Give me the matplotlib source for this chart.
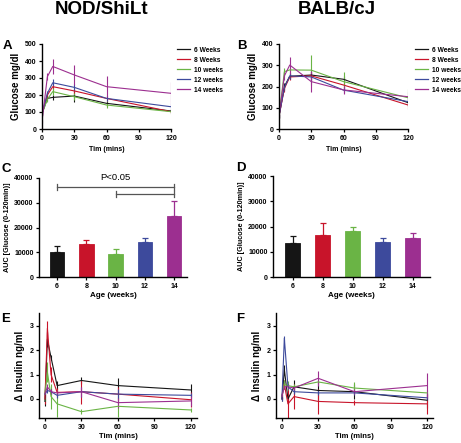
import matplotlib
matplotlib.use("Agg")
import matplotlib.pyplot as plt
from matplotlib.lines import Line2D
import numpy as np

plt.rcParams['font.family'] = ['Liberation Sans', 'DejaVu Sans']
plt.rcParams['font.weight'] = 'bold'

W, H = 461, 443

# ---------------- data ----------------
groups = ["6 Weeks", "8 Weeks", "10 weeks", "12 weeks", "14 weeks"]
colors = ["#151515", "#c8142a", "#6ab445", "#3d4a9c", "#9c2f90"]

gtt_time = [0, 5, 10, 30, 60, 120]
nod_glu = [
    [90, 180, 186, 194, 151, 106],
    [90, 200, 249, 224, 180, 102],
    [90, 175, 220, 190, 141, 102],
    [90, 210, 272, 245, 180, 131],
    [45, 308, 368, 318, 249, 210],
]
nod_glu_err = [
    [10, 15, 15, 35, 15, 10],
    [10, 15, 20, 20, 15, 10],
    [10, 15, 20, 20, 20, 15],
    [10, 15, 20, 20, 15, 15],
    [10, 20, 45, 60, 60, 68],
]
balb_glu = [
    [60, 200, 248, 254, 234, 124],
    [60, 190, 245, 250, 207, 113],
    [60, 270, 278, 277, 223, 147],
    [60, 195, 250, 245, 183, 129],
    [60, 250, 301, 223, 184, 152],
]
balb_glu_err = [
    [10, 15, 15, 20, 15, 15],
    [10, 15, 15, 20, 15, 20],
    [10, 15, 15, 70, 45, 40],
    [10, 15, 15, 20, 15, 15],
    [10, 20, 40, 50, 20, 20],
]

ages = ["6", "8", "10", "12", "14"]
nod_auc = [10200, 13300, 9100, 14000, 24700]
nod_auc_err = [2300, 1600, 2400, 1900, 6200]
balb_auc = [13500, 16700, 18300, 13800, 15600]
balb_auc_err = [2900, 4500, 1700, 1800, 1700]

ins_time = [0, 2, 5, 10, 30, 60, 120]
nod_ins = [
    [-0.1, 2.45, 1.7, 0.55, 0.76, 0.55, 0.37],
    [0.0, 2.9, 1.0, 0.27, 0.3, 0.2, -0.03],
    [0.2, 1.1, 0.1, -0.2, -0.52, -0.3, -0.45],
    [0.2, 0.35, 0.3, 0.15, 0.3, 0.2, 0.15],
    [0.2, 0.5, 0.3, 0.25, 0.3, -0.15, -0.08],
]
nod_ins_err = [
    [0.2, 0.3, 0.1, 0.2, 0.15, 0.3, 0.25],
    [0.2, 0.3, 0.3, 0.2, 0.5, 0.3, 0.3],
    [0.3, 0.4, 0.5, 0.55, 0.1, 0.45, 0.1],
    [0.1, 0.1, 0.1, 0.1, 0.2, 0.2, 0.1],
    [0.1, 0.1, 0.1, 0.1, 0.2, 0.2, 0.2],
]
balb_ins = [
    [0.0, 1.2, 0.0, 0.5, 0.35, 0.3, -0.05],
    [0.1, 0.6, -0.2, 0.1, -0.1, -0.15, -0.2],
    [0.1, 0.6, 0.55, 0.5, 0.7, 0.45, 0.25],
    [0.0, 2.5, 0.5, 0.3, 0.25, 0.25, 0.05],
    [0.1, 0.5, 0.5, 0.45, 0.85, 0.3, 0.55],
]
balb_ins_err = [
    [0.1, 0.2, 0.2, 0.3, 0.4, 0.3, 0.3],
    [0.1, 0.2, 0.6, 0.5, 0.5, 0.1, 0.4],
    [0.1, 0.2, 0.2, 0.1, 0.1, 0.25, 0.1],
    [0.1, 0.1, 0.1, 0.1, 0.1, 0.1, 0.1],
    [0.1, 0.1, 0.1, 0.1, 0.3, 0.1, 0.5],
]

# ---------------- helpers ----------------
fig = plt.figure(figsize=(W / 100, H / 100), dpi=100)


def add_axes(x0, x1, ytop, ybot):
    return fig.add_axes([x0 / W, 1 - ybot / H, (x1 - x0) / W, (ybot - ytop) / H])


def style(ax):
    for s in ("top", "right"):
        ax.spines[s].set_visible(False)
    for s in ("left", "bottom"):
        ax.spines[s].set_linewidth(1.0)
    ax.tick_params(length=2.5, width=0.9, pad=1.5, labelsize=5)
    for lab in ax.get_xticklabels() + ax.get_yticklabels():
        lab.set_fontweight("bold")


def lines(ax, t, data, err):
    for d, e, c in zip(data, err, colors):
        ax.errorbar(t, d, yerr=e, color=c, lw=0.8, elinewidth=0.8, capsize=0)


def legend(ax, x_anchor):
    handles = [Line2D([], [], color=c, lw=0.9) for c in colors]
    leg = ax.legend(handles, groups, loc="upper left", bbox_to_anchor=(x_anchor, 0.97),
                    frameon=False, fontsize=4.8, handlelength=2.0, handletextpad=0.5,
                    labelspacing=0.45, borderaxespad=0, borderpad=0)
    for t in leg.get_texts():
        t.set_fontweight("bold")


# ---------------- A ----------------
axA = add_axes(42, 171, 44, 129)
lines(axA, gtt_time, nod_glu, nod_glu_err)
axA.set_xlim(0, 120)
axA.set_ylim(0, 500)
axA.set_xticks([0, 30, 60, 90, 120])
axA.set_yticks([0, 100, 200, 300, 400, 500])
style(axA)
axA.set_ylabel("Glucose mg/dl", fontsize=7, fontweight="bold", labelpad=3)
axA.set_xlabel("Tim (mins)", fontsize=5, fontweight="bold", labelpad=3)
legend(axA, (177 - 42) / 129)

# ---------------- B ----------------
axB = add_axes(279, 408, 44, 129)
lines(axB, gtt_time, balb_glu, balb_glu_err)
axB.set_xlim(0, 120)
axB.set_ylim(0, 400)
axB.set_xticks([0, 30, 60, 90, 120])
axB.set_yticks([0, 100, 200, 300, 400])
style(axB)
axB.set_ylabel("Glucose mg/dl", fontsize=7, fontweight="bold", labelpad=3)
axB.set_xlabel("Tim (mins)", fontsize=5, fontweight="bold", labelpad=3)
legend(axB, (415 - 279) / 129)


# ---------------- C / D ----------------
def bars(ax, vals, errs):
    x = np.arange(len(ages))
    ax.bar(x, vals, width=0.5, color=colors, edgecolor=colors, linewidth=0.6)
    for xi, v, e, c in zip(x, vals, errs, colors):
        ax.errorbar([xi], [v], yerr=[[0], [e]], color=c, elinewidth=0.9, capsize=2.5,
                    capthick=0.9, fmt="none")
    ax.set_xticks(x)
    ax.set_xticklabels(ages)
    ax.set_ylim(0, 40000)
    ax.set_yticks([0, 10000, 20000, 30000, 40000])
    style(ax)
    ax.set_ylabel("AUC [Glucose (0-120min)]", fontsize=5.2, fontweight="bold", labelpad=2)
    ax.set_xlabel("Age (weeks)", fontsize=5.8, fontweight="bold", labelpad=2)


axC = add_axes(39, 187, 178, 277)
bars(axC, nod_auc, nod_auc_err)
axC.set_xlim(-0.615, 4.44)
br_col = "#555555"
axC.plot([0, 4], [36400, 36400], color=br_col, lw=0.9)
axC.plot([0, 0], [35300, 37500], color=br_col, lw=0.9)
axC.plot([4, 4], [35300, 37500], color=br_col, lw=0.9)
axC.plot([2, 4], [33500, 33500], color=br_col, lw=0.9)
axC.plot([2, 2], [32400, 34600], color=br_col, lw=0.9)
axC.plot([4, 4], [32400, 34600], color=br_col, lw=0.9)
axC.text(2.0, 38200, "P<0.05", ha="center", va="bottom", fontsize=6.8, fontweight="normal")

axD = add_axes(273, 430, 176, 277)
bars(axD, balb_auc, balb_auc_err)
axD.set_xlim(-0.65, 4.57)


# ---------------- E / F ----------------
def ins(ax, data, err):
    lines(ax, ins_time, data, err)
    ax.set_xlim(-4.9, 125)
    ax.set_ylim(-0.78, 3.53)
    ax.set_xticks([0, 30, 60, 90, 120])
    ax.set_yticks([0, 1, 2, 3])
    style(ax)
    ax.set_ylabel("\u0394 Insulin ng/ml", fontsize=7, fontweight="bold", labelpad=3)
    ax.set_xlabel("Tim (mins)", fontsize=5.5, fontweight="bold", labelpad=2)


axE = add_axes(39, 197, 313, 418)
ins(axE, nod_ins, nod_ins_err)
axF = add_axes(276, 433, 313, 418)
ins(axF, balb_ins, balb_ins_err)

# ---------------- titles and letters ----------------
fig.text(102 / W, 1 - 9 / H, "NOD/ShiLt", ha="center", va="center", fontsize=13.5, fontweight="bold")
fig.text(337 / W, 1 - 9 / H, "BALB/cJ", ha="center", va="center", fontsize=13.5, fontweight="bold")
for lab, x, y in [("A", 3, 46), ("B", 237, 46), ("C", 1, 169), ("D", 236, 168),
                  ("E", 1, 319), ("F", 236, 319)]:
    fig.text(x / W, 1 - y / H, lab, ha="left", va="center", fontsize=9.5, fontweight="bold")

fig.savefig("out.png", dpi=100)
